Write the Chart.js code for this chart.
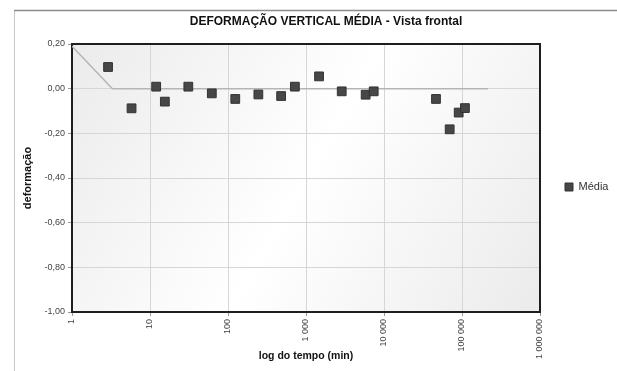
<!DOCTYPE html>
<html>
<head>
<meta charset="utf-8">
<title>Deformação vertical média</title>
<script src="https://cdn.jsdelivr.net/npm/chart.js@4.4.1/dist/chart.umd.min.js"></script>
<style>
    html, body { margin: 0; padding: 0; background: #fff; }
    #wrap { width: 617px; height: 371px; }
</style>
</head>
<body>
<div id="wrap"><canvas id="deformChart" width="617" height="371"></canvas></div>
<script>
// Medições: tempo (min) e deformação média
const tempos = [2.9, 5.8, 12, 15.5, 31, 62, 124, 245, 480, 720, 1470, 2870, 5820, 7380, 46400, 69500, 90700, 109000];
const deformacoes = [0.097, -0.088, 0.009, -0.058, 0.009, -0.021, -0.046, -0.026, -0.033, 0.009, 0.055, -0.012, -0.027, -0.012, -0.046, -0.182, -0.107, -0.087];

// Linha de referência
const refTempos = [1, 3.3, 215000];
const refValores = [0.19, 0, 0];

// Eixos
const xTicks = [1, 10, 100, 1000, 10000, 100000, 1000000];
const xTickLabels = ['1', '10', '100', '1 000', '10 000', '100 000', '1 000 000'];
const yTicks = [-1, -0.8, -0.6, -0.4, -0.2, 0, 0.2];
const yTickLabels = ['-1,00', '-0,80', '-0,60', '-0,40', '-0,20', '0,00', '0,20'];

const FONT = '"Liberation Sans", Arial, sans-serif';

const pontos = tempos.map((t, i) => ({ x: t, y: deformacoes[i] }));
const referencia = refTempos.map((t, i) => ({ x: t, y: refValores[i] }));

// Fundo em degradê, moldura do gráfico e título
const plotDecor = {
    id: 'plotDecor',
    beforeDraw(chart) {
        const { ctx, chartArea: a } = chart;
        ctx.save();
        // moldura externa
        ctx.strokeStyle = '#c8c8c8';
        ctx.lineWidth = 1;
        ctx.beginPath();
        ctx.moveTo(14.5, 371);
        ctx.lineTo(14.5, 10.5);
        ctx.stroke();
        ctx.strokeStyle = '#8c8c8c';
        ctx.lineWidth = 1.5;
        ctx.beginPath();
        ctx.moveTo(14, 10.5);
        ctx.lineTo(617, 10.5);
        ctx.stroke();
        // fundo da área de plotagem
        const g = ctx.createLinearGradient(a.left, a.top, a.right, a.bottom);
        g.addColorStop(0, '#ebebeb');
        g.addColorStop(0.5, '#ffffff');
        g.addColorStop(1, '#ebebeb');
        ctx.fillStyle = g;
        ctx.fillRect(a.left, a.top, a.right - a.left, a.bottom - a.top);
        // título
        ctx.fillStyle = '#111';
        ctx.font = 'bold 12px ' + FONT;
        ctx.textAlign = 'center';
        ctx.textBaseline = 'middle';
        ctx.fillText('DEFORMAÇÃO VERTICAL MÉDIA - Vista frontal', 326, 22);
        ctx.restore();
    },
    beforeDatasetsDraw(chart) {
        const { ctx, chartArea: a } = chart;
        ctx.save();
        ctx.strokeStyle = '#1e1e1e';
        ctx.lineWidth = 2;
        ctx.strokeRect(a.left, a.top, a.right - a.left, a.bottom - a.top);
        ctx.restore();
    }
};

const ctx = document.getElementById('deformChart');
new Chart(ctx, {
    type: 'scatter',
    data: {
        datasets: [{
            label: 'Média',
            data: pontos,
            pointStyle: 'rect',
            pointRadius: 6.2,
            pointHoverRadius: 6.2,
            backgroundColor: '#474747',
            borderColor: '#333333',
            borderWidth: 1
        }, {
            label: 'referencia',
            data: referencia,
            showLine: true,
            borderColor: '#b5b5b5',
            borderWidth: 1.5,
            pointRadius: 0,
            pointHoverRadius: 0,
            tension: 0
        }]
    },
    options: {
        responsive: false,
        animation: false,
        layout: {
            padding: { top: 44, right: 0, bottom: 0, left: 0 }
        },
        plugins: {
            title: { display: false },
            tooltip: { enabled: false },
            legend: {
                position: 'right',
                fullSize: false,
                maxWidth: 77,
                title: {
                    display: true,
                    text: ' ',
                    font: { family: FONT, size: 10 },
                    padding: 3
                },
                labels: {
                    boxWidth: 8,
                    boxHeight: 8,
                    padding: 25,
                    color: '#333',
                    font: { family: FONT, size: 11 },
                    filter: item => item.datasetIndex === 0
                }
            }
        },
        scales: {
            x: {
                type: 'logarithmic',
                min: 1,
                max: 1000000,
                afterBuildTicks: scale => {
                    scale.ticks = xTicks.map(v => ({ value: v }));
                },
                afterFit: scale => { scale.height = 59; },
                ticks: {
                    minRotation: 90,
                    maxRotation: 90,
                    autoSkip: false,
                    padding: 3,
                    color: '#444',
                    font: { family: FONT, size: 9 },
                    callback: function(value) {
                        const i = xTicks.indexOf(value);
                        return i >= 0 ? xTickLabels[i] : '';
                    }
                },
                grid: { color: '#d6d6d6', tickColor: '#999', tickLength: 4 },
                border: { display: false },
                title: {
                    display: true,
                    text: 'log do tempo (min)',
                    color: '#111',
                    font: { family: FONT, size: 10.5, weight: 'bold' },
                    padding: { top: 0, bottom: 9 }
                }
            },
            y: {
                min: -1,
                max: 0.2,
                afterBuildTicks: scale => {
                    scale.ticks = yTicks.map(v => ({ value: v }));
                },
                afterFit: scale => { scale.width = 72; },
                ticks: {
                    padding: 3,
                    color: '#444',
                    font: { family: FONT, size: 9 },
                    callback: function(value) {
                        const i = yTicks.findIndex(v => Math.abs(v - value) < 1e-9);
                        return i >= 0 ? yTickLabels[i] : '';
                    }
                },
                grid: { color: '#d6d6d6', tickColor: '#999', tickLength: 4 },
                border: { display: false },
                title: {
                    display: true,
                    text: 'deformação',
                    color: '#111',
                    font: { family: FONT, size: 11, weight: 'bold' },
                    padding: { top: 21, bottom: 0 }
                }
            }
        }
    },
    plugins: [plotDecor]
});
</script>
</body>
</html>
